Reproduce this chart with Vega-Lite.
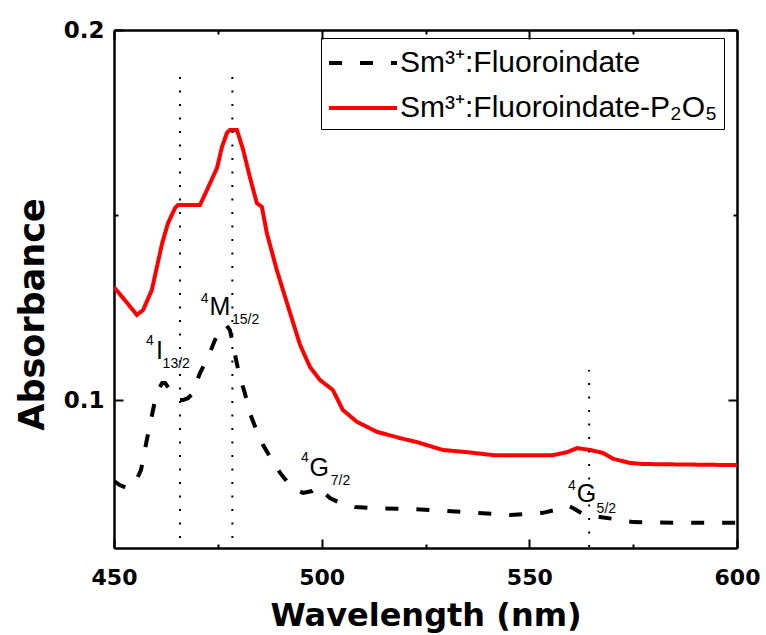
{
  "$schema": "https://vega.github.io/schema/vega-lite/v6.json",
  "width": 623,
  "height": 518,
  "autosize": {"type": "none"},
  "padding": {"left": 114, "top": 30, "right": 29, "bottom": 87},
  "background": "white",
  "datasets": {
    "curves": [
      {"s": "Sm³⁺:Fluoroindate", "w": 450.0, "a": 0.0781},
      {"s": "Sm³⁺:Fluoroindate", "w": 451.4, "a": 0.0770},
      {"s": "Sm³⁺:Fluoroindate", "w": 453.1, "a": 0.0762},
      {"s": "Sm³⁺:Fluoroindate", "w": 455.1, "a": 0.0776},
      {"s": "Sm³⁺:Fluoroindate", "w": 456.5, "a": 0.0811},
      {"s": "Sm³⁺:Fluoroindate", "w": 457.9, "a": 0.0892},
      {"s": "Sm³⁺:Fluoroindate", "w": 458.9, "a": 0.0946},
      {"s": "Sm³⁺:Fluoroindate", "w": 459.9, "a": 0.1000},
      {"s": "Sm³⁺:Fluoroindate", "w": 460.6, "a": 0.1027},
      {"s": "Sm³⁺:Fluoroindate", "w": 461.6, "a": 0.1046},
      {"s": "Sm³⁺:Fluoroindate", "w": 462.3, "a": 0.1046},
      {"s": "Sm³⁺:Fluoroindate", "w": 463.0, "a": 0.1035},
      {"s": "Sm³⁺:Fluoroindate", "w": 464.2, "a": 0.1014},
      {"s": "Sm³⁺:Fluoroindate", "w": 465.4, "a": 0.1000},
      {"s": "Sm³⁺:Fluoroindate", "w": 466.6, "a": 0.1000},
      {"s": "Sm³⁺:Fluoroindate", "w": 467.8, "a": 0.1005},
      {"s": "Sm³⁺:Fluoroindate", "w": 468.8, "a": 0.1016},
      {"s": "Sm³⁺:Fluoroindate", "w": 470.7, "a": 0.1073},
      {"s": "Sm³⁺:Fluoroindate", "w": 472.6, "a": 0.1114},
      {"s": "Sm³⁺:Fluoroindate", "w": 474.3, "a": 0.1162},
      {"s": "Sm³⁺:Fluoroindate", "w": 475.8, "a": 0.1189},
      {"s": "Sm³⁺:Fluoroindate", "w": 477.0, "a": 0.1203},
      {"s": "Sm³⁺:Fluoroindate", "w": 477.9, "a": 0.1189},
      {"s": "Sm³⁺:Fluoroindate", "w": 478.7, "a": 0.1149},
      {"s": "Sm³⁺:Fluoroindate", "w": 479.4, "a": 0.1108},
      {"s": "Sm³⁺:Fluoroindate", "w": 480.3, "a": 0.1062},
      {"s": "Sm³⁺:Fluoroindate", "w": 481.5, "a": 0.1019},
      {"s": "Sm³⁺:Fluoroindate", "w": 482.7, "a": 0.0965},
      {"s": "Sm³⁺:Fluoroindate", "w": 484.0, "a": 0.0927},
      {"s": "Sm³⁺:Fluoroindate", "w": 485.9, "a": 0.0878},
      {"s": "Sm³⁺:Fluoroindate", "w": 487.6, "a": 0.0846},
      {"s": "Sm³⁺:Fluoroindate", "w": 490.0, "a": 0.0803},
      {"s": "Sm³⁺:Fluoroindate", "w": 492.9, "a": 0.0762},
      {"s": "Sm³⁺:Fluoroindate", "w": 495.5, "a": 0.0749},
      {"s": "Sm³⁺:Fluoroindate", "w": 497.7, "a": 0.0754},
      {"s": "Sm³⁺:Fluoroindate", "w": 498.9, "a": 0.0765},
      {"s": "Sm³⁺:Fluoroindate", "w": 500.1, "a": 0.0754},
      {"s": "Sm³⁺:Fluoroindate", "w": 502.0, "a": 0.0735},
      {"s": "Sm³⁺:Fluoroindate", "w": 504.9, "a": 0.0719},
      {"s": "Sm³⁺:Fluoroindate", "w": 508.0, "a": 0.0711},
      {"s": "Sm³⁺:Fluoroindate", "w": 512.4, "a": 0.0708},
      {"s": "Sm³⁺:Fluoroindate", "w": 522.0, "a": 0.0705},
      {"s": "Sm³⁺:Fluoroindate", "w": 530.2, "a": 0.0700},
      {"s": "Sm³⁺:Fluoroindate", "w": 537.4, "a": 0.0695},
      {"s": "Sm³⁺:Fluoroindate", "w": 545.4, "a": 0.0689},
      {"s": "Sm³⁺:Fluoroindate", "w": 553.3, "a": 0.0695},
      {"s": "Sm³⁺:Fluoroindate", "w": 556.2, "a": 0.0703},
      {"s": "Sm³⁺:Fluoroindate", "w": 557.9, "a": 0.0711},
      {"s": "Sm³⁺:Fluoroindate", "w": 559.3, "a": 0.0714},
      {"s": "Sm³⁺:Fluoroindate", "w": 560.5, "a": 0.0708},
      {"s": "Sm³⁺:Fluoroindate", "w": 561.7, "a": 0.0700},
      {"s": "Sm³⁺:Fluoroindate", "w": 563.4, "a": 0.0689},
      {"s": "Sm³⁺:Fluoroindate", "w": 567.0, "a": 0.0684},
      {"s": "Sm³⁺:Fluoroindate", "w": 570.6, "a": 0.0678},
      {"s": "Sm³⁺:Fluoroindate", "w": 575.0, "a": 0.0670},
      {"s": "Sm³⁺:Fluoroindate", "w": 586.3, "a": 0.0668},
      {"s": "Sm³⁺:Fluoroindate", "w": 600.0, "a": 0.0668},
      {"s": "Sm³⁺:Fluoroindate-P₂O₅", "w": 450.0, "a": 0.1305},
      {"s": "Sm³⁺:Fluoroindate-P₂O₅", "w": 452.6, "a": 0.1270},
      {"s": "Sm³⁺:Fluoroindate-P₂O₅", "w": 455.5, "a": 0.1230},
      {"s": "Sm³⁺:Fluoroindate-P₂O₅", "w": 457.0, "a": 0.1243},
      {"s": "Sm³⁺:Fluoroindate-P₂O₅", "w": 459.1, "a": 0.1297},
      {"s": "Sm³⁺:Fluoroindate-P₂O₅", "w": 461.6, "a": 0.1424},
      {"s": "Sm³⁺:Fluoroindate-P₂O₅", "w": 463.0, "a": 0.1478},
      {"s": "Sm³⁺:Fluoroindate-P₂O₅", "w": 464.7, "a": 0.1519},
      {"s": "Sm³⁺:Fluoroindate-P₂O₅", "w": 465.4, "a": 0.1527},
      {"s": "Sm³⁺:Fluoroindate-P₂O₅", "w": 470.7, "a": 0.1527},
      {"s": "Sm³⁺:Fluoroindate-P₂O₅", "w": 472.4, "a": 0.1568},
      {"s": "Sm³⁺:Fluoroindate-P₂O₅", "w": 474.8, "a": 0.1627},
      {"s": "Sm³⁺:Fluoroindate-P₂O₅", "w": 476.0, "a": 0.1684},
      {"s": "Sm³⁺:Fluoroindate-P₂O₅", "w": 477.2, "a": 0.1722},
      {"s": "Sm³⁺:Fluoroindate-P₂O₅", "w": 477.9, "a": 0.1730},
      {"s": "Sm³⁺:Fluoroindate-P₂O₅", "w": 479.6, "a": 0.1730},
      {"s": "Sm³⁺:Fluoroindate-P₂O₅", "w": 481.1, "a": 0.1676},
      {"s": "Sm³⁺:Fluoroindate-P₂O₅", "w": 482.7, "a": 0.1603},
      {"s": "Sm³⁺:Fluoroindate-P₂O₅", "w": 484.4, "a": 0.1532},
      {"s": "Sm³⁺:Fluoroindate-P₂O₅", "w": 485.6, "a": 0.1522},
      {"s": "Sm³⁺:Fluoroindate-P₂O₅", "w": 486.8, "a": 0.1451},
      {"s": "Sm³⁺:Fluoroindate-P₂O₅", "w": 489.2, "a": 0.1351},
      {"s": "Sm³⁺:Fluoroindate-P₂O₅", "w": 492.4, "a": 0.1235},
      {"s": "Sm³⁺:Fluoroindate-P₂O₅", "w": 494.8, "a": 0.1149},
      {"s": "Sm³⁺:Fluoroindate-P₂O₅", "w": 497.2, "a": 0.1089},
      {"s": "Sm³⁺:Fluoroindate-P₂O₅", "w": 499.6, "a": 0.1054},
      {"s": "Sm³⁺:Fluoroindate-P₂O₅", "w": 502.7, "a": 0.1027},
      {"s": "Sm³⁺:Fluoroindate-P₂O₅", "w": 505.1, "a": 0.0973},
      {"s": "Sm³⁺:Fluoroindate-P₂O₅", "w": 508.5, "a": 0.0941},
      {"s": "Sm³⁺:Fluoroindate-P₂O₅", "w": 513.3, "a": 0.0914},
      {"s": "Sm³⁺:Fluoroindate-P₂O₅", "w": 518.9, "a": 0.0897},
      {"s": "Sm³⁺:Fluoroindate-P₂O₅", "w": 523.0, "a": 0.0886},
      {"s": "Sm³⁺:Fluoroindate-P₂O₅", "w": 529.2, "a": 0.0865},
      {"s": "Sm³⁺:Fluoroindate-P₂O₅", "w": 535.0, "a": 0.0859},
      {"s": "Sm³⁺:Fluoroindate-P₂O₅", "w": 541.3, "a": 0.0851},
      {"s": "Sm³⁺:Fluoroindate-P₂O₅", "w": 547.0, "a": 0.0851},
      {"s": "Sm³⁺:Fluoroindate-P₂O₅", "w": 555.7, "a": 0.0851},
      {"s": "Sm³⁺:Fluoroindate-P₂O₅", "w": 559.1, "a": 0.0859},
      {"s": "Sm³⁺:Fluoroindate-P₂O₅", "w": 561.5, "a": 0.0870},
      {"s": "Sm³⁺:Fluoroindate-P₂O₅", "w": 564.6, "a": 0.0865},
      {"s": "Sm³⁺:Fluoroindate-P₂O₅", "w": 567.7, "a": 0.0857},
      {"s": "Sm³⁺:Fluoroindate-P₂O₅", "w": 570.2, "a": 0.0841},
      {"s": "Sm³⁺:Fluoroindate-P₂O₅", "w": 574.2, "a": 0.0830},
      {"s": "Sm³⁺:Fluoroindate-P₂O₅", "w": 577.4, "a": 0.0827},
      {"s": "Sm³⁺:Fluoroindate-P₂O₅", "w": 600.0, "a": 0.0824}
    ],
    "guides": [
      {"w": 465.9, "a1": 0.0627, "a2": 0.1903},
      {"w": 478.5, "a1": 0.0627, "a2": 0.1903},
      {"w": 564.4, "a1": 0.0603, "a2": 0.1081}
    ],
    "labels": [
      {"role": "main", "t": "I", "w": 460.1, "a": 0.1111},
      {"role": "sup", "t": "4", "w": 457.7, "a": 0.11486},
      {"role": "sub", "t": "13/2", "w": 461.7, "a": 0.10865},
      {"role": "main", "t": "M", "w": 473.0, "a": 0.12297},
      {"role": "sup", "t": "4", "w": 470.9, "a": 0.12622},
      {"role": "sub", "t": "15/2", "w": 478.4, "a": 0.12054},
      {"role": "main", "t": "G", "w": 497.1, "a": 0.07946},
      {"role": "sup", "t": "4", "w": 495.0, "a": 0.08324},
      {"role": "sub", "t": "7/2", "w": 502.2, "a": 0.07703},
      {"role": "main", "t": "G", "w": 561.4, "a": 0.07243},
      {"role": "sup", "t": "4", "w": 559.3, "a": 0.07568},
      {"role": "sub", "t": "5/2", "w": 566.2, "a": 0.06946}
    ]
  },
  "layer": [
    {
      "data": {"name": "curves"},
      "mark": {"type": "line", "strokeWidth": 4, "clip": true},
      "encoding": {
        "x": {
          "field": "w", "type": "quantitative",
          "scale": {"domain": [450, 600], "nice": false, "zero": false},
          "axis": {
            "orient": "bottom",
            "values": [450, 475, 500, 525, 550, 575, 600],
            "labelExpr": "datum.value % 50 === 0 ? datum.label : ''",
            "labelFlush": false,
            "tickSize": {"condition": {"test": "datum.value % 50 === 0", "value": -9}, "value": -4},
            "labelPadding": 28,
            "title": "Wavelength (nm)",
            "titleFontSize": 32,
            "titleX": 311.5,
            "titleY": 77,
            "titleBaseline": "alphabetic",
            "titleAlign": "center"
          }
        },
        "y": {
          "field": "a", "type": "quantitative",
          "scale": {"domain": [0.06, 0.2], "nice": false, "zero": false},
          "axis": {
            "orient": "left",
            "values": [0.1, 0.15, 0.2],
            "format": ".1f",
            "labelFlush": false,
            "labelExpr": "datum.value === 0.15 ? '' : datum.label",
            "tickSize": {"condition": {"test": "datum.value === 0.15", "value": -4}, "value": -9},
            "labelPadding": 19,
            "labelFontSize": 23,
            "title": "Absorbance",
            "titleFontSize": 35,
            "titleAngle": -90,
            "titleX": -71,
            "titleY": 284,
            "titleBaseline": "alphabetic",
            "titleAlign": "center"
          }
        },
        "color": {
          "field": "s", "type": "nominal",
          "scale": {"domain": ["Sm³⁺:Fluoroindate", "Sm³⁺:Fluoroindate-P₂O₅"], "range": ["#000000", "#ff0000"]},
          "legend": {"title": null, "orient": "none", "legendX": 207, "legendY": 8}
        },
        "strokeDash": {
          "field": "s", "type": "nominal",
          "scale": {"domain": ["Sm³⁺:Fluoroindate", "Sm³⁺:Fluoroindate-P₂O₅"], "range": [[13, 18], [1, 0]]},
          "legend": {"title": null, "orient": "none", "legendX": 207, "legendY": 8}
        }
      }
    },
    {
      "data": {"name": "guides"},
      "mark": {"type": "rule", "color": "black", "strokeWidth": 2, "strokeDash": [2, 11.5]},
      "encoding": {
        "x": {
          "field": "w", "type": "quantitative",
          "scale": {"domain": [450, 600], "nice": false, "zero": false},
          "axis": {
            "orient": "top",
            "values": [450, 475, 500, 525, 550, 575, 600],
            "labels": false,
            "title": null,
            "tickSize": {"condition": {"test": "datum.value % 50 === 0", "value": -9}, "value": -4}
          }
        },
        "y": {
          "field": "a1", "type": "quantitative",
          "scale": {"domain": [0.06, 0.2], "nice": false, "zero": false},
          "axis": {
            "orient": "right",
            "values": [0.1, 0.15, 0.2],
            "labels": false,
            "title": null,
            "tickSize": {"condition": {"test": "datum.value === 0.15", "value": -4}, "value": -9}
          }
        },
        "y2": {"field": "a2"}
      }
    },
    {
      "data": {"name": "labels"},
      "transform": [{"filter": "datum.role === 'main'"}],
      "mark": {"type": "text", "font": "Liberation Sans", "fontSize": 25, "align": "left", "baseline": "alphabetic", "color": "black"},
      "encoding": {
        "x": {"field": "w", "type": "quantitative", "scale": {"domain": [450, 600], "nice": false, "zero": false}, "axis": null},
        "y": {"field": "a", "type": "quantitative", "scale": {"domain": [0.06, 0.2], "nice": false, "zero": false}, "axis": null},
        "text": {"field": "t"}
      }
    },
    {
      "data": {"name": "labels"},
      "transform": [{"filter": "datum.role !== 'main'"}],
      "mark": {"type": "text", "font": "Liberation Sans", "fontSize": 14, "align": "left", "baseline": "alphabetic", "color": "black"},
      "encoding": {
        "x": {"field": "w", "type": "quantitative", "scale": {"domain": [450, 600], "nice": false, "zero": false}, "axis": null},
        "y": {"field": "a", "type": "quantitative", "scale": {"domain": [0.06, 0.2], "nice": false, "zero": false}, "axis": null},
        "text": {"field": "t"}
      }
    }
  ],
  "resolve": {"axis": {"x": "independent", "y": "independent"}},
  "config": {
    "view": {"stroke": null},
    "axis": {
      "grid": false,
      "domainColor": "black",
      "domainWidth": 2.5,
      "tickColor": "black",
      "tickWidth": 2,
      "labelFont": "DejaVu Sans",
      "labelFontWeight": "bold",
      "labelFontSize": 22,
      "labelColor": "black",
      "titleFont": "DejaVu Sans",
      "titleFontWeight": "bold",
      "titleColor": "black"
    },
    "legend": {
      "labelFont": "Liberation Sans",
      "labelFontSize": 30,
      "labelColor": "black",
      "labelLimit": 0,
      "symbolType": "M-1,0H3",
      "symbolSize": 1156,
      "symbolStrokeWidth": 4,
      "strokeColor": "black",
      "padding": 6,
      "rowPadding": 11,
      "labelOffset": 35
    }
  }
}
